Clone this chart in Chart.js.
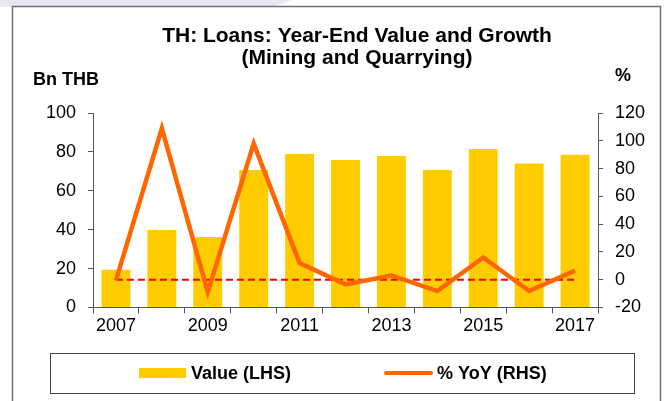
<!DOCTYPE html>
<html lang="en">
<head>
    <meta charset="UTF-8">
    <title>TH: Loans - Mining and Quarrying</title>
    <script src="https://cdn.jsdelivr.net/npm/chart.js"></script>
    <style>
        body { margin: 0; background: #fff; }
    </style>
</head>
<body>
    <canvas id="myChart" width="668" height="401"></canvas>
    <script>
    // data
    const years = ['2007', '2008', '2009', '2010', '2011', '2012', '2013', '2014', '2015', '2016', '2017'];
    const shownYears = ['2007', '2009', '2011', '2013', '2015', '2017'];
    const loanValue = [19.4, 39.8, 36.2, 70.7, 78.9, 75.9, 77.9, 70.7, 81.5, 74.1, 78.6];   // Bn THB
    const yoyGrowth = [-0.5, 109, -9, 98, 12, -3.4, 3, -8.2, 16, -8.2, 6.5];                // %
    const zeroLine = [0, 0, 0, 0, 0, 0, 0, 0, 0, 0, 0];

    const FONT = "'Liberation Sans', Arial, sans-serif";
    const axisColor = '#555';

    // frame, axis unit labels and the boxed legend
    const decorations = {
        id: 'decorations',
        beforeDraw(chart) {
            const c = chart.ctx;
            c.save();
            c.fillStyle = '#fff';
            c.fillRect(0, 0, chart.width, chart.height);
            // faint band above the frame
            c.fillStyle = '#e8e8f3';
            c.beginPath();
            c.moveTo(0, 0); c.lineTo(292, 0); c.lineTo(272, 7); c.lineTo(0, 7);
            c.closePath();
            c.fill();
            c.strokeStyle = '#707070';
            c.lineWidth = 1.5;
            c.strokeRect(12.5, 6.5, 648, 420);
            c.restore();
        },
        afterDraw(chart) {
            const c = chart.ctx;
            const ds = chart.data.datasets;
            c.save();
            c.fillStyle = '#000';
            c.font = 'bold 18px ' + FONT;
            c.textBaseline = 'alphabetic';
            c.textAlign = 'left';
            c.fillText('Bn THB', 33, 85);
            c.fillText('%', 615, 81);

            // legend box
            c.strokeStyle = '#444';
            c.lineWidth = 1;
            c.strokeRect(50.5, 353.5, 584, 40);
            c.textBaseline = 'middle';
            c.fillStyle = ds[0].backgroundColor;
            c.fillRect(139, 368, 47, 10);
            c.fillStyle = '#000';
            c.fillText(ds[0].label, 191, 374);
            c.strokeStyle = ds[1].borderColor;
            c.lineWidth = 4;
            c.lineCap = 'round';
            c.beginPath();
            c.moveTo(386, 373); c.lineTo(431, 373);
            c.stroke();
            c.fillText(ds[1].label, 437, 374);
            c.restore();
        }
    };

    const ctx = document.getElementById('myChart').getContext('2d');
    new Chart(ctx, {
        type: 'bar',
        data: {
            labels: years,
            datasets: [{
                type: 'bar',
                label: 'Value (LHS)',
                data: loanValue,
                backgroundColor: '#FFCC00',
                barPercentage: 0.63,
                categoryPercentage: 1,
                yAxisID: 'y',
                order: 3
            }, {
                type: 'line',
                label: '% YoY (RHS)',
                data: yoyGrowth,
                borderColor: '#FF6600',
                borderWidth: 4.5,
                pointRadius: 0,
                tension: 0,
                yAxisID: 'y1',
                order: 1
            }, {
                type: 'line',
                label: 'zero',
                data: zeroLine,
                borderColor: '#FF0000',
                borderWidth: 2,
                borderDash: [7, 4],
                pointRadius: 0,
                yAxisID: 'y1',
                order: 2
            }]
        },
        options: {
            responsive: false,
            animation: false,
            layout: {
                padding: { left: 46, right: 0, top: 0, bottom: 62 }
            },
            scales: {
                x: {
                    grid: { drawOnChartArea: false, tickLength: 6, color: axisColor },
                    border: { color: axisColor },
                    ticks: {
                        autoSkip: false,
                        maxRotation: 0,
                        padding: 2,
                        color: '#000',
                        font: { family: FONT, size: 18 },
                        callback: (v, i) => shownYears.includes(years[i]) ? years[i] : ''
                    }
                },
                y: {
                    position: 'left',
                    min: 0,
                    max: 100,
                    grid: { drawOnChartArea: false, tickLength: 5, color: axisColor },
                    border: { color: axisColor },
                    ticks: { stepSize: 20, padding: 12, color: '#000', font: { family: FONT, size: 18 } },
                    afterFit: s => { s.width = 47; }
                },
                y1: {
                    position: 'right',
                    min: -20,
                    max: 120,
                    grid: { drawOnChartArea: false, tickLength: 5, color: axisColor },
                    border: { color: axisColor },
                    ticks: { stepSize: 20, padding: 12, color: '#000', font: { family: FONT, size: 18 } },
                    afterFit: s => { s.width = 70; }
                }
            },
            plugins: {
                legend: { display: false },
                tooltip: { enabled: false },
                title: {
                    display: true,
                    text: ['TH: Loans: Year-End Value and Growth', '(Mining and Quarrying)'],
                    color: '#000',
                    font: { family: FONT, size: 21, weight: 'bold', lineHeight: 1.05 },
                    padding: { top: 25, bottom: 44 }
                }
            }
        },
        plugins: [decorations]
    });
    </script>
</body>
</html>
